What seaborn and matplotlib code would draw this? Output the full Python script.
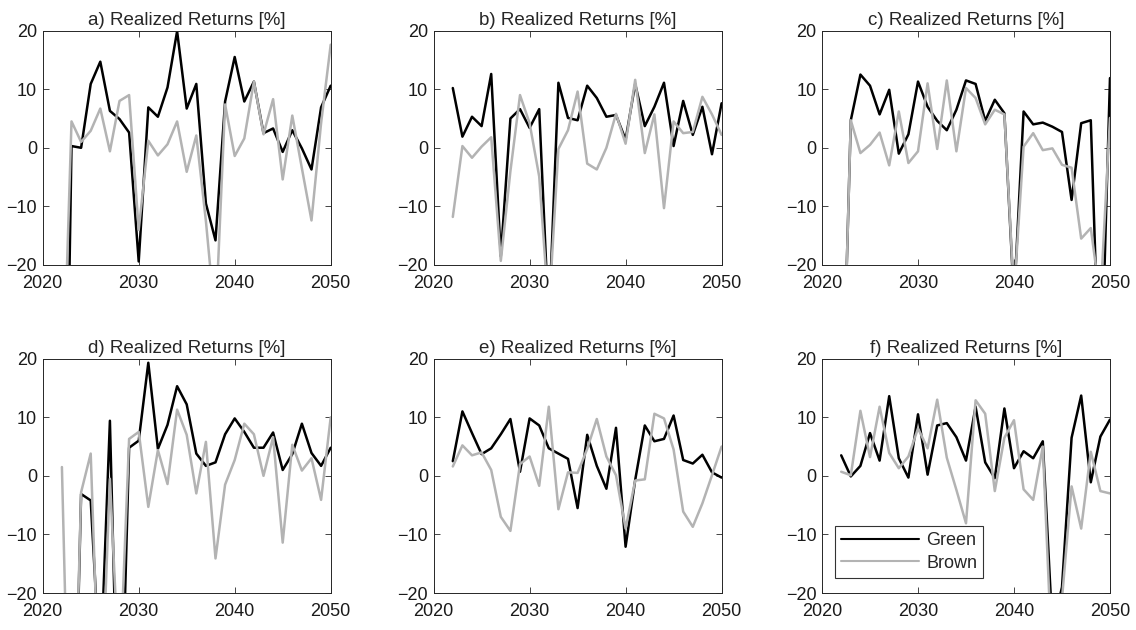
import numpy as np
import matplotlib
matplotlib.use("Agg")
import matplotlib.pyplot as plt
import seaborn as sns

# Years on the x axis
years = list(range(2022, 2051))

# Realized returns [%] per panel (values below -20 are clipped)
green_a = [-100, 0.3, 0.0, 10.9, 14.7, 6.3, 4.9, 2.6, -19.4, 6.9, 5.3, 10.3, 19.9, 6.7, 10.9,
           -9.5, -15.8, 7.9, 15.5, 7.9, 11.3, 2.5, 3.3, -0.7, 3.0, -0.1, -3.7, 6.9, 10.6]
brown_a = [-48, 4.5, 1.0, 2.9, 6.7, -0.6, 8.0, 9.0, -14, 1.2, -1.3, 0.6, 4.5, -4.1, 2.1,
           -12.5, -30, 7.4, -1.4, 1.6, 11.3, 2.3, 8.3, -5.4, 5.5, -3.5, -12.4, 4.2, 17.6]

green_b = [10.2, 1.9, 5.3, 3.7, 12.6, -18.5, 5.0, 6.6, 3.4, 6.6, -30, 11.1, 5.1, 4.7, 10.6,
           8.5, 5.3, 5.6, 1.4, 10.9, 3.7, 7.0, 11.1, 0.3, 8.0, 2.2, 7.0, -1.1, 7.6]
brown_b = [-11.8, 0.3, -1.7, 0.2, 1.8, -19.3, -4, 9.0, 4.2, -4.9, -28, -0.2, 3.0, 9.6, -2.7,
           -3.7, 0.0, 5.8, 0.7, 11.6, -0.9, 5.7, -10.3, 4.5, 2.5, 2.7, 8.7, 5.7, 2.2]

green_c = [-54, 4.7, 12.5, 10.6, 5.7, 9.9, -1.0, 2.3, 11.3, 7.0, 4.6, 3.0, 6.5, 11.5, 10.9,
           4.6, 8.2, 5.9, -26, 6.2, 4.0, 4.3, 3.6, 2.7, -8.9, 4.2, 4.7, -45, 11.9]
brown_c = [-54, 4.7, -0.9, 0.5, 2.6, -3.0, 6.2, -2.6, -0.6, 11.0, -0.2, 11.5, -0.6, 10.2, 8.5,
           4.0, 6.5, 5.7, -25, 0.2, 2.5, -0.4, -0.1, -2.9, -3.4, -15.5, -13.7, -26, 5.1]

green_d = [-60, -70, -3.1, -4.2, -34, 9.4, -55, 4.8, 6.0, 19.3, 4.6, 8.7, 15.3, 12.2, 3.8,
           1.7, 2.3, 7.1, 9.8, 7.5, 4.8, 4.8, 7.4, 1.0, 3.7, 8.9, 3.9, 1.7, 4.8]
brown_d = [1.5, -65, -2.8, 3.8, -44, -0.5, -35, 6.3, 7.5, -5.3, 4.4, -1.4, 11.3, 7.0, -3.0,
           5.8, -14.1, -1.5, 2.7, 8.9, 7.1, 0.0, 6.6, -11.4, 5.3, 0.9, 3.0, -4.1, 10.0]

green_e = [2.5, 11.0, 7.3, 3.7, 4.7, 7.1, 9.7, 0.7, 9.8, 8.6, 4.7, 3.8, 2.9, -5.5, 7.0,
           1.7, -2.2, 8.2, -12.1, -0.7, 8.6, 5.9, 6.3, 10.3, 2.7, 2.1, 3.6, 0.6, -0.3]
brown_e = [1.6, 5.2, 3.5, 4.0, 1.0, -7.0, -9.4, 2.0, 3.3, -1.7, 11.8, -5.7, 0.6, 0.5, 4.6,
           9.7, 3.3, 0.1, -9.0, -0.8, -0.6, 10.6, 9.8, 4.5, -6.1, -8.7, -4.7, 0.1, 5.0]

green_f = [3.5, -0.1, 1.7, 7.3, 2.6, 13.6, 3.0, -0.3, 10.5, 0.2, 8.6, 9.0, 6.6, 2.6, 11.8,
           2.3, -0.4, 11.5, 1.3, 4.2, 3.0, 5.9, -26, -19, 6.5, 13.7, -1.1, 6.7, 9.6]
brown_f = [0.7, 0.1, 11.1, 3.2, 11.8, 3.9, 1.3, 3.3, 8.1, 4.7, 13.0, 3.1, -2.4, -8.1, 12.9,
           10.6, -2.6, 6.5, 9.5, -2.3, -4.1, 5.0, -33, -21, -1.8, -9.0, 4.1, -2.6, -3.0]

panel_labels = ["a", "b", "c", "d", "e", "f"]
greens = [green_a, green_b, green_c, green_d, green_e, green_f]
browns = [brown_a, brown_b, brown_c, brown_d, brown_e, brown_f]

sns.set_style("ticks")
plt.rcParams["font.family"] = ["Liberation Sans", "DejaVu Sans"]
plt.rcParams["font.size"] = 13

fig = plt.figure(figsize=(11.36, 6.3), dpi=100)

# axes positions in figure fractions
lefts = [0.0376, 0.3817, 0.7236]
bottoms = [0.5794, 0.0587]
width = 0.2535
height = 0.372

edge = "#262626"

for i, (lab, g, b) in enumerate(zip(panel_labels, greens, browns)):
    row, col = divmod(i, 3)
    ax = fig.add_axes([lefts[col], bottoms[row], width, height])
    last = (i == 5)
    sns.lineplot(x=years, y=g, ax=ax, color="black", linewidth=1.8,
                 label="Green" if last else None, legend=last)
    sns.lineplot(x=years, y=b, ax=ax, color="#b3b3b3", linewidth=1.8,
                 label="Brown" if last else None, legend=last)
    ax.set_xlim(2020, 2050)
    ax.set_ylim(-20, 20)
    ax.set_xticks([2020, 2030, 2040, 2050])
    ax.set_yticks([-20, -10, 0, 10, 20])
    ax.tick_params(direction="in", top=True, right=True, length=4, width=0.6,
                   colors=edge, labelsize=13, labelcolor="#1a1a1a")
    ax.tick_params(axis="x", pad=7)
    ax.tick_params(axis="y", pad=4)
    for sp in ax.spines.values():
        sp.set_visible(True)
        sp.set_color(edge)
        sp.set_linewidth(0.7)
    ax.set_title(f"{lab}) Realized Returns [%]", fontsize=13.5, pad=4)
    if last:
        leg = ax.legend(loc="lower left", bbox_to_anchor=(0.045, 0.064), fontsize=13,
                        frameon=True, fancybox=False, handlelength=4.3,
                        borderpad=0.35, labelspacing=0.3, handletextpad=0.4,
                        borderaxespad=0)
        leg.get_frame().set_edgecolor("black")
        leg.get_frame().set_linewidth(0.8)
        for line in leg.get_lines():
            line.set_linewidth(1.5)

fig.savefig("out.png", dpi=100, facecolor="white")
